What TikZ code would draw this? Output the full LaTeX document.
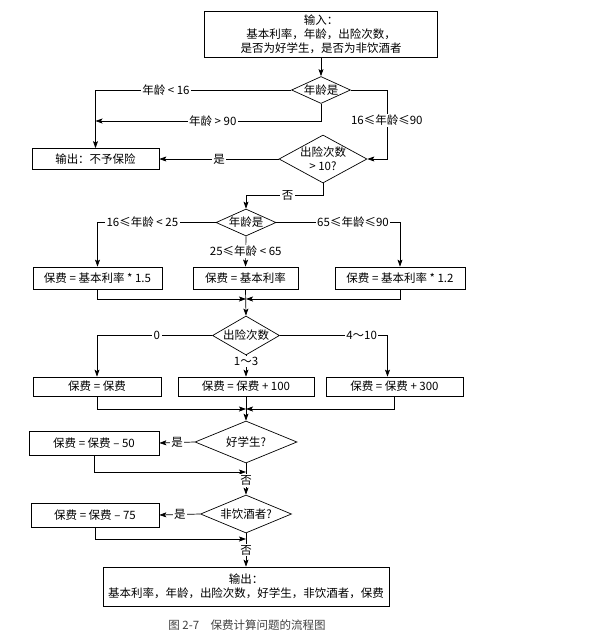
\documentclass[tikz,border=0pt]{standalone}
\usepackage{fontspec}
\setmainfont{Noto Sans CJK SC}
\usetikzlibrary{arrows.meta,shapes.geometric}

\begin{document}
\begin{tikzpicture}[x=1pt,y=-1pt,line width=0.7pt,
    font=\fontsize{11.5}{14}\selectfont,
    box/.style args={#1x#2}{draw,inner sep=0pt,align=center,minimum width=#1pt,minimum height=#2pt},
    dia/.style args={#1x#2}{draw,diamond,inner sep=0pt,minimum width=#1pt,minimum height=#2pt},
    lbl/.style={fill=white,inner sep=1.5pt},
    arr/.style={-{Stealth[length=7pt,width=5pt,inset=1.5pt]}}]
\useasboundingbox (0,0) rectangle (601,638);

% input and first checks
\node[box=233x46] (in) at (321,34) {输入：\\基本利率，年龄，出险次数，\\是否为好学生，是否为非饮酒者};
\node[dia=59x27, label={center:年龄是}] (d1) at (321,90) {};
\node[box=127x21] (no) at (95.5,159) {输出：不予保险};
\node[dia=88x48, label={[align=center]center:{出险次数\\> 10?}}] (d2) at (323,159) {};
\coordinate (m90) at (95.5,121);

\draw[arr] (in) -- (d1);
\draw[arr] (d1.west) -| node[lbl,pos=0.32] {年龄 < 16} (no.north);
\draw[arr] (d1.south) |- node[lbl,pos=0.74] {年龄 > 90} (m90);
\draw[arr] (d1.east) -- ++(36,0) |- node[lbl,pos=0.22] {16≤年龄≤90} (d2.east);
\draw[arr] (d2.west) -- node[lbl] {是} (no.east);

% age groups
\node[dia=60x27, label={center:年龄是}] (d3) at (246,222.5) {};
\node[box=129x22] (b1) at (97.5,278) {保费 = 基本利率 * 1.5};
\node[box=105x22] (b2) at (245.5,278) {保费 = 基本利率};
\node[box=130x22] (b3) at (400,278) {保费 = 基本利率 * 1.2};
\coordinate (j1) at (246,299);

\draw[arr] (d2.south) -- ++(0,12) -| node[lbl,pos=0.23] {否} (d3.north);
\draw[arr] (d3.west) -| node[lbl,pos=0.31] {16≤年龄 < 25} (b1.north);
\draw[arr] (d3.east) -| node[lbl,pos=0.31] {65≤年龄≤90} (b3.north);
\draw[arr] (d3.south) -- node[lbl,pos=0.5] {25≤年龄 < 65} (b2.north);

% claims
\node[dia=67x39, label={center:出险次数}] (d4) at (246,335.5) {};
\node[box=128x19] (b4) at (97,386.5) {保费 = 保费};
\node[box=136x19] (b5) at (246,386.5) {保费 = 保费 + 100};
\node[box=137x19] (b6) at (394.5,386.5) {保费 = 保费 + 300};
\coordinate (j2) at (246,409);

\draw[arr] (b1.south) |- (j1);
\draw[arr] (b3.south) |- (j1);
\draw[arr] (b2.south) -- (d4.north);
\draw[arr] (d4.west) -| node[lbl,pos=0.24] {0} (b4.north);
\draw[arr] (d4.east) -| node[lbl,pos=0.38] {4～10} ([xshift=-7pt]b6.north);
\draw[arr] (d4.south) -- node[lbl,pos=0.3] {1～3} (b5.north);

% discounts
\node[dia=102x42, label={center:好学生?}] (d5) at (246,442) {};
\node[box=130x24] (b7) at (94,443) {保费 = 保费 – 50};
\node[dia=91x38, label={center:非饮酒者?}] (d6) at (246,514) {};
\node[box=128x24] (b8) at (95,515) {保费 = 保费 – 75};
\node[box=286x39] (out) at (246,586.5) {输出：\\基本利率，年龄，出险次数，好学生，非饮酒者，保费};
\coordinate (j3) at (246,472);
\coordinate (j4) at (246,539);

\draw[arr] (b4.south) |- (j2);
\draw[arr] (b6.south) |- (j2);
\draw[arr] (b5.south) -- (d5.north);
\draw[arr] (d5.west) -- node[lbl] {是} (b7.east);
\draw[arr] (b7.south) |- (j3);
\draw[arr] (d5.south) -- node[lbl,pos=0.56] {否} (d6.north);
\draw[arr] (d6.west) -- node[lbl] {是} (b8.east);
\draw[arr] (b8.south) |- (j4);
\draw[arr] (d6.south) -- node[lbl,pos=0.5] {否} (out.north);

\node[text=black!75] (cap) at (247,625) {图 2-7\quad 保费计算问题的流程图};
\end{tikzpicture}
\end{document}
